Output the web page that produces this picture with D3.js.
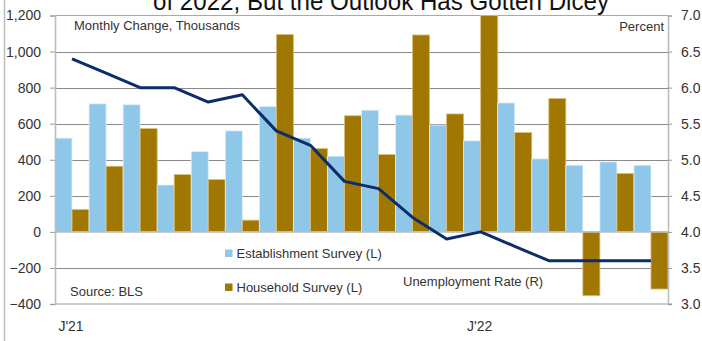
<!DOCTYPE html>
<html>
<head>
<meta charset="utf-8">
<script src="https://cdn.jsdelivr.net/npm/d3@7"></script>
<style>
  body { margin: 0; background: #fff; }
  svg text { font-family: "Liberation Sans", Arial, sans-serif; fill: #333; }
</style>
</head>
<body>
<div id="chart-container"></div>
<script>
// Data: Jan 2021 - Jun 2022
const months = ["J'21","F'21","M'21","A'21","M'21b","J'21b","J'21c","A'21b","S'21","O'21","N'21","D'21",
                "J'22","F'22","M'22","A'22","M'22b","J'22b"];
const establishment = [520, 710, 705, 260, 445, 560, 695, 520, 420, 675, 648, 592, 505, 715, 405, 370, 388, 370];
const household = [124, 364, 573, 318, 290, 65, 1095, 462, 644, 429, 1092, 654, 1200, 551, 740, -354, 324, -317];
const unemployment = [6.4, 6.2, 6.0, 6.0, 5.8, 5.9, 5.4, 5.2, 4.7, 4.6, 4.2, 3.9, 4.0, 3.8, 3.6, 3.6, 3.6, 3.6];
const leftTicks = [-400, -200, 0, 200, 400, 600, 800, 1000, 1200];
const rightTicks = [3.0, 3.5, 4.0, 4.5, 5.0, 5.5, 6.0, 6.5, 7.0];
const xLabels = [{ month: "J'21", text: "J'21" }, { month: "J'22", text: "J'22" }];

const svgWidth = 702;
const svgHeight = 341;
const plot = { left: 55, right: 668, top: 15.5, bottom: 304 };

const svg = d3.select("#chart-container")
  .append("svg")
  .attr("width", svgWidth)
  .attr("height", svgHeight);

// scales
const xScale = d3.scaleBand()
  .domain(months)
  .range([plot.left, plot.right])
  .padding(0);

const xInner = d3.scaleBand()
  .domain(["est", "hh"])
  .range([0, xScale.bandwidth()])
  .padding(0);

const yLeft = d3.scaleLinear().domain([-400, 1200]).range([plot.bottom, plot.top]);
const yRight = d3.scaleLinear().domain([3.0, 7.0]).range([plot.bottom, plot.top]);

// outer frame line on the far left
svg.append("line")
  .attr("x1", 4.5).attr("x2", 4.5)
  .attr("y1", 0).attr("y2", svgHeight)
  .attr("stroke", "#bdbdbd").attr("stroke-width", 1.5);

// gridlines
svg.append("g")
  .selectAll("line")
  .data(leftTicks.filter(d => d !== 0 && d !== -400 && d !== 1200))
  .join("line")
  .attr("x1", plot.left).attr("x2", plot.right)
  .attr("y1", d => Math.round(yLeft(d)) + 0.5)
  .attr("y2", d => Math.round(yLeft(d)) + 0.5)
  .attr("stroke", "#8a8a8a").attr("stroke-width", 1.2);

svg.append("line")
  .attr("x1", plot.left).attr("x2", plot.right)
  .attr("y1", yLeft(1200)).attr("y2", yLeft(1200))
  .attr("stroke", "#a8a8a8").attr("stroke-width", 1.2);

// bars
const groups = svg.append("g")
  .selectAll("g")
  .data(months.map((m, i) => ({ month: m, est: establishment[i], hh: household[i] })))
  .join("g")
  .attr("transform", d => `translate(${xScale(d.month)},0)`);

groups.append("rect")
  .attr("x", xInner("est"))
  .attr("y", d => yLeft(Math.max(0, d.est)))
  .attr("width", xInner.bandwidth())
  .attr("height", d => Math.abs(yLeft(d.est) - yLeft(0)))
  .attr("fill", "#8fc7e8")
  .attr("stroke", "#dcf0fb")
  .attr("stroke-width", 0.8);

groups.append("rect")
  .attr("x", xInner("hh"))
  .attr("y", d => yLeft(Math.max(0, d.hh)))
  .attr("width", xInner.bandwidth())
  .attr("height", d => Math.abs(yLeft(d.hh) - yLeft(0)))
  .attr("fill", "#a07700")
  .attr("stroke", "#d9bf80")
  .attr("stroke-width", 0.8);

// zero line and bottom line
svg.append("line")
  .attr("x1", plot.left).attr("x2", plot.right)
  .attr("y1", yLeft(0)).attr("y2", yLeft(0))
  .attr("stroke", "#bdbdbd").attr("stroke-width", 1.6);

svg.append("line")
  .attr("x1", plot.left).attr("x2", plot.right + 4)
  .attr("y1", yLeft(-400)).attr("y2", yLeft(-400))
  .attr("stroke", "#bdbdbd").attr("stroke-width", 1.6);

// unemployment line
const line = d3.line()
  .x((d, i) => xScale(months[i]) + xScale.bandwidth() / 2)
  .y(d => yRight(d));

svg.append("path")
  .datum(unemployment)
  .attr("d", line)
  .attr("fill", "none")
  .attr("stroke", "#0b2e6b")
  .attr("stroke-width", 3)
  .attr("stroke-linejoin", "round");

// left axis
const leftAxis = svg.append("g")
  .attr("transform", `translate(${plot.left},0)`)
  .call(d3.axisLeft(yLeft).tickValues(leftTicks).tickSize(5).tickPadding(9)
    .tickFormat(d3.format(",")));
leftAxis.select(".domain").attr("stroke", "#bdbdbd").attr("stroke-width", 1.6);
leftAxis.selectAll(".tick line").attr("stroke", "#9a9a9a");
leftAxis.selectAll(".tick text")
  .style("font-size", "14px")
  .style("font-family", "'Liberation Sans', Arial, sans-serif")
  .attr("fill", "#333");

// right axis
const rightAxis = svg.append("g")
  .attr("transform", `translate(${plot.right},0)`)
  .call(d3.axisRight(yRight).tickValues(rightTicks).tickSize(4).tickPadding(9)
    .tickFormat(d3.format(".1f")));
rightAxis.select(".domain").attr("stroke", "#bdbdbd").attr("stroke-width", 1.6);
rightAxis.selectAll(".tick line").attr("stroke", "#9a9a9a");
rightAxis.selectAll(".tick text")
  .style("font-size", "14px")
  .style("font-family", "'Liberation Sans', Arial, sans-serif")
  .attr("fill", "#333");

// x labels
svg.append("g")
  .selectAll("text")
  .data(xLabels)
  .join("text")
  .text(d => d.text)
  .attr("x", d => xScale(d.month) + xScale.bandwidth() / 2 - 1)
  .attr("y", 331)
  .attr("text-anchor", "middle")
  .style("font-size", "14px");

// title (cut off at the top, as in the original)
svg.append("text")
  .text("of 2022, But the Outlook Has Gotten Dicey")
  .attr("x", 153)
  .attr("y", 10)
  .attr("textLength", 456)
  .attr("lengthAdjust", "spacingAndGlyphs")
  .style("font-size", "26px")
  .style("fill", "#111");

// annotations
const notes = [
  { text: "Monthly Change, Thousands", x: 74, y: 30, anchor: "start" },
  { text: "Percent", x: 664, y: 31, anchor: "end" },
  { text: "Source:  BLS", x: 70, y: 296, anchor: "start" },
  { text: "Unemployment  Rate (R)", x: 403, y: 286, anchor: "start" }
];
svg.append("g")
  .selectAll("text")
  .data(notes)
  .join("text")
  .text(d => d.text)
  .attr("x", d => d.x)
  .attr("y", d => d.y)
  .attr("text-anchor", d => d.anchor)
  .style("font-size", "13px");

// legend
const legend = [
  { text: "Establishment Survey (L)", color: "#8fc7e8", y: 249.5 },
  { text: "Household Survey (L)", color: "#a07700", y: 283.5 }
];
const lg = svg.append("g")
  .selectAll("g")
  .data(legend)
  .join("g")
  .attr("transform", d => `translate(225,${d.y})`);
lg.append("rect")
  .attr("width", 7.5).attr("height", 7.5)
  .attr("fill", d => d.color);
lg.append("text")
  .text(d => d.text)
  .attr("x", 11.5)
  .attr("y", 8)
  .style("font-size", "13px");
</script>
</body>
</html>
